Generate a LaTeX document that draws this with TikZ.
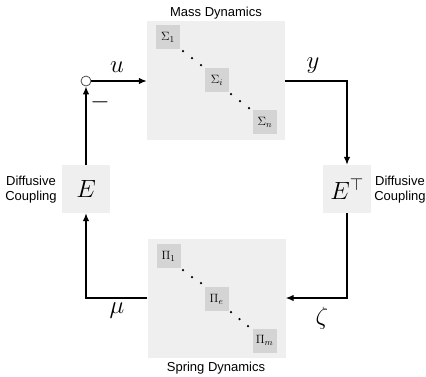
\documentclass[tikz,border=0pt]{standalone}
\usepackage{fontspec}
\setsansfont{Liberation Sans}
\usetikzlibrary{arrows.meta}
\definecolor{boxbg}{HTML}{EFEFEF}
\definecolor{subbg}{HTML}{D4D4D4}
\tikzset{
  bigbox/.style={fill=boxbg, draw=none, minimum width=138pt, minimum height=119pt, inner sep=0pt},
  subbox/.style={fill=subbg, draw=none, minimum width=24pt, minimum height=24pt, inner sep=0pt, font=\fontsize{13}{15}\selectfont},
  gainbox/.style={fill=boxbg, draw=none, minimum width=48pt, minimum height=48pt, inner sep=0pt, font=\fontsize{27}{30}\selectfont},
  caption/.style={font=\sffamily\fontsize{13}{15}\selectfont, align=center, inner sep=0pt},
  sig/.style={font=\fontsize{23}{26}\selectfont, inner sep=0pt},
  arr/.style={line width=1.3pt, -{Latex[length=8pt,width=6.5pt]}},
  ln/.style={line width=1.3pt},
  dotc/.style={circle, fill=black, inner sep=0pt, minimum size=2.5pt},
  sumc/.style={circle, draw=black!70, line width=0.8pt, fill=white, minimum size=10pt, inner sep=0pt}
}
\begin{document}
\begin{tikzpicture}[x=1pt,y=-1pt]
\useasboundingbox (0,0) rectangle (426,376);
% big boxes
\node[bigbox] (mass) at (216,80) {};
\node[bigbox] (spring) at (216.5,298) {};
\node[caption] (masscap) at (216,13) {Mass Dynamics};
\node[caption] (springcap) at (216,368) {Spring Dynamics};
% sub boxes
\node[subbox] (s1) at (168,37) {$\Sigma_1$};
\node[subbox] (si) at (217,80) {$\Sigma_i$};
\node[subbox] (sn) at (265,122) {$\Sigma_n$};
\node[subbox] (p1) at (168.5,256) {$\Pi_1$};
\node[subbox] (pe) at (216.5,299) {$\Pi_e$};
\node[subbox] (pm) at (264.5,340.5) {$\Pi_m$};
% dots
\node[dotc] (d1) at (183,51) {};
\node[dotc] (d2) at (192,58) {};
\node[dotc] (d3) at (201,65) {};
\node[dotc] (d4) at (231,94) {};
\node[dotc] (d5) at (240,101) {};
\node[dotc] (d6) at (249,108) {};
\node[dotc] (d7) at (183,270) {};
\node[dotc] (d8) at (192,277) {};
\node[dotc] (d9) at (201,283) {};
\node[dotc] (d10) at (231,312) {};
\node[dotc] (d11) at (239.5,319) {};
\node[dotc] (d12) at (248,326) {};
% gains
\node[gainbox] (E) at (86,189) {$E$};
\node[gainbox] (ET) at (347,189) {$E^{\top}$};
\node[caption] (lcap) at (31,190) {Diffusive\\[0pt]Coupling};
\node[caption] (rcap) at (400,190) {Diffusive\\[0pt]Coupling};
% summing junction
\node[sumc] (sum) at (86,81) {};
% connectors
\draw[arr] (E.north) -- (sum.south);
\draw[arr] (sum.east) -- (sum.east -| mass.west);
\coordinate (yout) at (mass.east |- sum.east);
\draw[arr] (yout) -| (ET.north);
\draw[arr] (ET.south) |- (spring.east);
\draw[arr] (spring.west) -| (E.south);
% labels
\node[sig] (lu) at (117,67) {$u$};
\node[sig] (ly) at (313,66) {$y$};
\node[sig] (lmu) at (117,311) {$\mu$};
\node[sig] (lzeta) at (322,318) {$\zeta$};
\node[sig] (lminus) at (100,102) {$-$};
\end{tikzpicture}
\end{document}
